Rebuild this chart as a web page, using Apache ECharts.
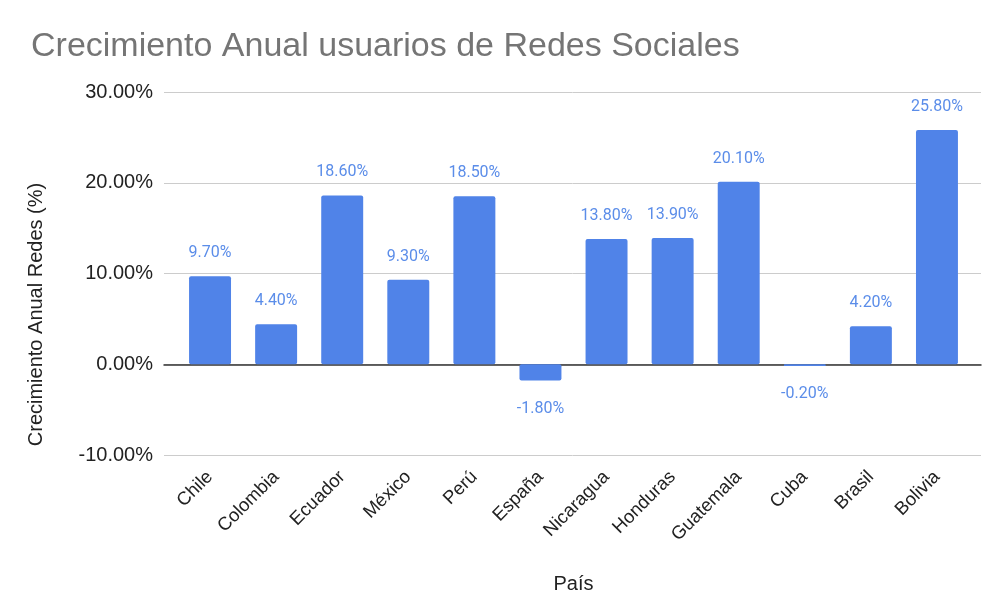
<!DOCTYPE html>
<html lang="es">
<head>
    <meta charset="UTF-8">
    <title>Crecimiento Anual usuarios de Redes Sociales</title>
    <style>
        html, body { margin: 0; padding: 0; background: #fff; }
    </style>
</head>
<body>
<script src="https://cdn.jsdelivr.net/npm/echarts@6/dist/echarts.min.js"></script>
<div id="main" style="width: 1000px;height:612px;"></div>
<script type="text/javascript">
    // datos del gráfico
    var paises = ['Chile', 'Colombia', 'Ecuador', 'México', 'Perú', 'España', 'Nicaragua', 'Honduras', 'Guatemala', 'Cuba', 'Brasil', 'Bolivia'];
    var crecimiento = [9.7, 4.4, 18.6, 9.3, 18.5, -1.8, 13.8, 13.9, 20.1, -0.2, 4.2, 25.8];
    var ticksY = [-10, 0, 10, 20, 30];

    var myChart = echarts.init(document.getElementById('main'));

    // etiqueta arriba para positivos, abajo para negativos
    var datos = [];
    for (var i = 0; i < crecimiento.length; i++) {
        var negativo = crecimiento[i] < 0;
        datos.push({
            value: crecimiento[i],
            label: { position: negativo ? 'bottom' : 'top', distance: negativo ? 20 : 15 }
        });
    }

    var fuente = 'Liberation Sans, Arial, sans-serif';

    var option = {
        animation: false,
        color: ['#5083e8'],
        title: {
            text: 'Crecimiento Anual usuarios de Redes Sociales',
            left: 26,
            top: 25,
            textStyle: {
                fontFamily: fuente,
                fontSize: 34,
                fontWeight: 'normal',
                color: '#757575'
            }
        },
        // grid 0: barras; grid 1: líneas de cuadrícula y etiquetas del eje Y
        grid: [
            { left: 177, right: 30, top: 92, bottom: 157 },
            { left: 164, right: 19, top: 92, bottom: 157 }
        ],
        xAxis: [
            {
                type: 'category',
                gridIndex: 0,
                data: paises,
                name: 'País',
                nameLocation: 'middle',
                nameGap: 119,
                nameTextStyle: { fontFamily: fuente, fontSize: 20, color: '#222' },
                axisLine: { show: false },
                axisTick: { show: false },
                axisLabel: {
                    interval: 0,
                    rotate: 45,
                    margin: 19,
                    fontFamily: fuente,
                    fontSize: 18.5,
                    color: '#222',
                    padding: [0, 0, 0, 0]
                }
            },
            {
                type: 'value',
                gridIndex: 1,
                show: true,
                min: 0,
                max: 1,
                axisLabel: { show: false },
                axisTick: { show: false },
                splitLine: { show: false },
                axisLine: { show: true, onZero: true, lineStyle: { color: '#333', width: 1.5 } }
            }
        ],
        yAxis: [
            {
                type: 'value',
                gridIndex: 0,
                min: ticksY[0],
                max: ticksY[ticksY.length - 1],
                interval: 10,
                axisLine: { show: false },
                axisTick: { show: false },
                axisLabel: { show: false },
                splitLine: { show: false }
            },
            {
                type: 'value',
                gridIndex: 1,
                min: ticksY[0],
                max: ticksY[ticksY.length - 1],
                interval: 10,
                name: 'Crecimiento Anual Redes (%)',
                nameLocation: 'middle',
                nameGap: 118,
                nameTextStyle: {
                    fontFamily: fuente,
                    fontSize: 20,
                    color: '#222',
                    padding: [0, 82, 0, 0]
                },
                axisLine: { show: false },
                axisTick: { show: false },
                axisLabel: {
                    margin: 11,
                    fontFamily: 'Liberation Sans Narrow, Arial Narrow, Liberation Sans, Arial',
                    fontSize: 20,
                    color: '#222',
                    formatter: function (v) { return v.toFixed(2) + '%'; }
                },
                splitLine: {
                    lineStyle: { color: '#cccccc', width: 1 }
                }
            }
        ],
        series: [
            {
                name: 'Crecimiento',
                type: 'bar',
                xAxisIndex: 0,
                yAxisIndex: 0,
                data: datos,
                barWidth: '63.5%',
                itemStyle: { borderRadius: 2 },
                z: 3,
                label: {
                    show: true,
                    fontFamily: 'Roboto',
                    fontSize: 16,
                    color: '#5b8de9',
                    formatter: function (p) { return p.value.toFixed(2) + '%'; }
                }
            }
        ]
    };

    myChart.setOption(option);
</script>
</body>
</html>
